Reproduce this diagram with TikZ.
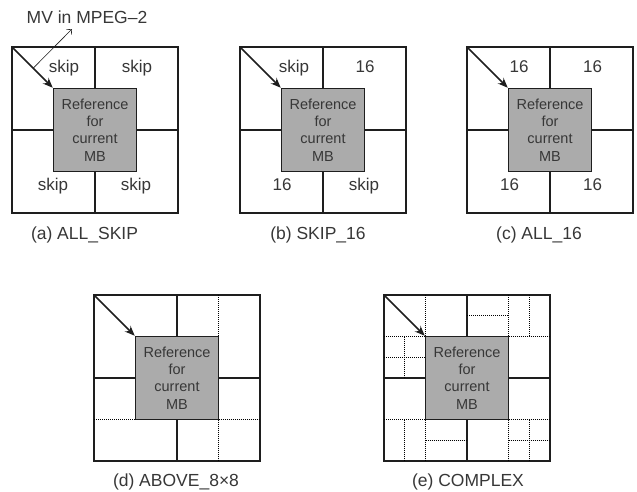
\documentclass[tikz,border=0pt]{standalone}
\usepackage{fontspec}
\setmainfont{Liberation Sans}
\usetikzlibrary{arrows.meta,calc}
\definecolor{refgray}{RGB}{171,171,171}
\definecolor{txt}{RGB}{55,55,55}
\definecolor{ln}{RGB}{30,30,30}
\tikzset{
  frame/.style={line width=1.5pt, draw=ln},
  solidline/.style={line width=1.4pt, draw=ln},
  dotline/.style={line width=0.9pt, dash pattern=on 1pt off 1pt, draw=black},
  refbox/.style={draw=ln, line width=1.5pt, fill=refgray, minimum width=83pt,
    minimum height=83pt, inner sep=0pt, align=center,
    font=\fontsize{14.5}{17.3}\selectfont, text=txt},
  lbl/.style={font=\fontsize{17}{19}\selectfont, text=txt, inner sep=0pt, anchor=base},
  captext/.style={font=\fontsize{17.5}{20}\selectfont, text=txt, inner sep=0pt, anchor=base},
  mvarrow/.style={line width=1.5pt, draw=ln, -{Stealth[length=10pt,width=8pt]}},
  thinarrow/.style={line width=0.6pt, draw=ln, -{Straight Barb[length=4pt,width=7pt]}},
}
\newcommand\mbpanel[4]{% name, x0, y0, extra drawing
  \begin{scope}[shift={(#2,#3)}]
    \draw[frame, fill=white] (0,0) rectangle (166,166);
    \draw[solidline] (83,0) -- (83,166) (0,83) -- (166,83);
    #4
    \node[refbox] (#1ref) at (83,83) {Reference\\for\\current\\MB};
    \coordinate (#1tl) at (0,0);
    \draw[mvarrow] (#1tl) -- (#1ref.north west);
  \end{scope}}
\begin{document}
\begin{tikzpicture}[x=1pt,y=-1pt]
  \useasboundingbox (0,0) rectangle (637,491);

  % (a)
  \mbpanel{a}{12}{47}{}
  \begin{scope}[shift={(12,47)}]
    \node[lbl] (a1) at (52,25) {skip};
    \node[lbl] (a2) at (125,25) {skip};
    \node[lbl] (a3) at (41,143) {skip};
    \node[lbl] (a4) at (124,143) {skip};
  \end{scope}
  \coordinate (amvs) at ($(atl)!0.52!(aref.north west)$);
  \coordinate (amve) at (72,29);
  \draw[thinarrow] (amvs) -- (amve);
  \node[captext] (mvlabel) at (87,23) {MV in MPEG\textendash2};
  \node[captext] (capa) at (84.5,239) {(a) ALL\_SKIP};

  % (b)
  \mbpanel{b}{240}{47}{}
  \begin{scope}[shift={(240,47)}]
    \node[lbl] (b1) at (54,25) {skip};
    \node[lbl] (b2) at (125,25) {16};
    \node[lbl] (b3) at (42,143) {16};
    \node[lbl] (b4) at (124,143) {skip};
  \end{scope}
  \node[captext] (capb) at (318,239) {(b) SKIP\_16};

  % (c)
  \mbpanel{c}{467}{47}{}
  \begin{scope}[shift={(467,47)}]
    \node[lbl] (c1) at (52,25) {16};
    \node[lbl] (c2) at (125.5,25) {16};
    \node[lbl] (c3) at (42.5,143) {16};
    \node[lbl] (c4) at (125.5,143) {16};
  \end{scope}
  \node[captext] (capc) at (539,239) {(c) ALL\_16};

  % (d)
  \mbpanel{d}{94}{295}{%
    \draw[dotline] (124.5,0) -- (124.5,41.5) (124.5,124.5) -- (124.5,166)
      (0,124.5) -- (41.5,124.5) (124.5,124.5) -- (166,124.5);}
  \node[captext] (capd) at (176,486) {(d) ABOVE\_8\texttimes8};

  % (e)
  \mbpanel{e}{384}{295}{%
    \draw[dotline]
      (41.5,0) -- (41.5,41.5)
      (83,20.75) -- (124.5,20.75)
      (124.5,0) -- (124.5,41.5)
      (145.25,0) -- (145.25,41.5)
      (124.5,41.5) -- (166,41.5)
      (0,41.5) -- (41.5,41.5)
      (20.75,41.5) -- (20.75,83)
      (0,62.25) -- (41.5,62.25)
      (0,124.5) -- (41.5,124.5)
      (20.75,124.5) -- (20.75,166)
      (41.5,124.5) -- (41.5,166)
      (41.5,145.25) -- (83,145.25)
      (124.5,124.5) -- (124.5,166)
      (145.25,124.5) -- (145.25,166)
      (124.5,124.5) -- (166,124.5)
      (124.5,145.25) -- (166,145.25);}
  \node[captext] (cape) at (468,486) {(e) COMPLEX};
\end{tikzpicture}
\end{document}
